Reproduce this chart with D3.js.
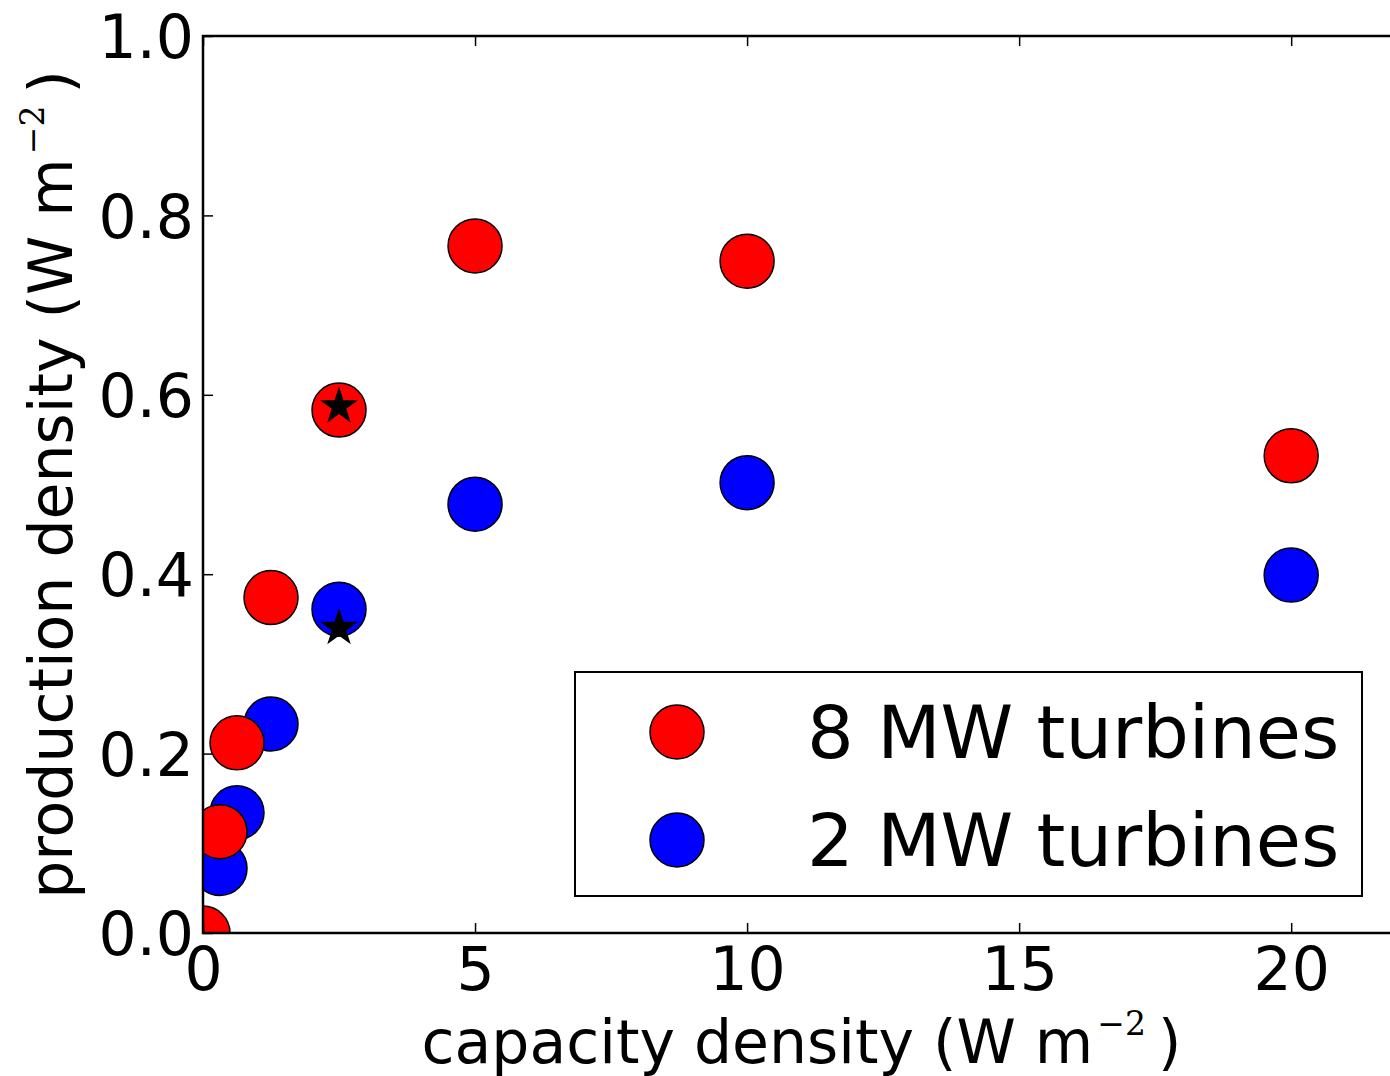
<!DOCTYPE html>
<html>
<head>
<meta charset="utf-8">
<script src="https://cdn.jsdelivr.net/npm/d3@7"></script>
<style>
  body { margin: 0; background: #fff; }
  text { font-family: "DejaVu Sans", sans-serif; fill: #000; }
</style>
</head>
<body>
<svg id="chart" width="1390" height="1076"></svg>
<script>
// data
const capacity8MW = [0, 0.3125, 0.625, 1.25, 2.5, 5, 10, 20];
const prod8MW     = [0, 0.113, 0.212, 0.374, 0.583, 0.766, 0.749, 0.532];
const capacity2MW = [0.3125, 0.625, 1.25, 2.5, 5, 10, 20];
const prod2MW     = [0.072, 0.134, 0.233, 0.361, 0.478, 0.502, 0.399];
const starCapacity = [2.5, 2.5];
const starProd     = [0.587, 0.340];
const xTicks = [0, 5, 10, 15, 20];
const yTicks = [0, 0.2, 0.4, 0.6, 0.8, 1.0];
const seriesNames = ["8 MW turbines", "2 MW turbines"];
const seriesColors = ["#ff0000", "#0000ff"];

const svg = d3.select("#chart");
const plot = { left: 203, right: 1400, top: 36, bottom: 933 };

const x = d3.scaleLinear().domain([0, 22]).range([plot.left, plot.right]);
const y = d3.scaleLinear().domain([0, 1]).range([plot.bottom, plot.top]);

svg.append("defs").append("clipPath").attr("id", "clip")
  .append("rect")
    .attr("x", plot.left).attr("y", plot.top)
    .attr("width", plot.right - plot.left)
    .attr("height", plot.bottom - plot.top);

// markers: blue first, red on top, then stars
const marks = svg.append("g").attr("clip-path", "url(#clip)");
const markerR = 27;

marks.selectAll("circle.blue")
  .data(d3.zip(capacity2MW, prod2MW))
  .join("circle")
    .attr("class", "blue")
    .attr("cx", d => x(d[0]))
    .attr("cy", d => y(d[1]))
    .attr("r", markerR)
    .attr("fill", seriesColors[1])
    .attr("stroke", "#000")
    .attr("stroke-width", 1.5);

marks.selectAll("circle.red")
  .data(d3.zip(capacity8MW, prod8MW))
  .join("circle")
    .attr("class", "red")
    .attr("cx", d => x(d[0]))
    .attr("cy", d => y(d[1]))
    .attr("r", markerR)
    .attr("fill", seriesColors[0])
    .attr("stroke", "#000")
    .attr("stroke-width", 1.5);

const star = d3.symbol().type(d3.symbolStar).size(450);
marks.selectAll("path.star")
  .data(d3.zip(starCapacity, starProd))
  .join("path")
    .attr("class", "star")
    .attr("d", star)
    .attr("transform", d => `translate(${x(d[0])},${y(d[1])})`)
    .attr("fill", "#000");

// axes, ticks pointing inward on all four sides
const tickLen = 10;
const fontSize = 60;

const xBottom = svg.append("g")
  .attr("transform", `translate(0,${plot.bottom})`)
  .call(d3.axisBottom(x).tickValues(xTicks).tickSizeInner(-tickLen).tickSizeOuter(0).tickFormat(d3.format("d")));
xBottom.selectAll("text")
  .attr("y", 57).attr("dy", 0)
  .style("font-size", fontSize + "px");

const xTop = svg.append("g")
  .attr("transform", `translate(0,${plot.top})`)
  .call(d3.axisTop(x).tickValues(xTicks).tickSizeInner(-tickLen).tickSizeOuter(0));
xTop.selectAll("text").remove();

const yLeft = svg.append("g")
  .attr("transform", `translate(${plot.left},0)`)
  .call(d3.axisLeft(y).tickValues(yTicks).tickSizeInner(-tickLen).tickSizeOuter(0).tickFormat(d3.format(".1f")));
yLeft.selectAll("text")
  .attr("x", -9).attr("dy", "0.36em")
  .style("font-size", fontSize + "px");

const yRight = svg.append("g")
  .attr("transform", `translate(${plot.right},0)`)
  .call(d3.axisRight(y).tickValues(yTicks).tickSizeInner(-tickLen).tickSizeOuter(0));
yRight.selectAll("text").remove();

svg.selectAll(".domain").remove();
svg.selectAll(".tick line").attr("stroke", "#000").attr("stroke-width", 1.5);

svg.append("rect")
  .attr("x", plot.left).attr("y", plot.top)
  .attr("width", plot.right - plot.left)
  .attr("height", plot.bottom - plot.top)
  .attr("fill", "none")
  .attr("stroke", "#000")
  .attr("stroke-width", 2.5);

// axis labels with a serif superscript, like matplotlib mathtext
function unitLabel(sel, base) {
  sel.append("tspan").text(base + " (W m");
  sel.append("tspan")
    .attr("dy", -28).attr("dx", 4)
    .style("font-family", "'DejaVu Serif', serif")
    .style("font-size", "33px")
    .text("\u22122");
  sel.append("tspan").attr("dy", 28).attr("dx", 12).text(")");
}

svg.append("text")
  .attr("x", (plot.left + plot.right) / 2)
  .attr("y", 1063)
  .attr("text-anchor", "middle")
  .style("font-size", "60px")
  .call(unitLabel, "capacity density");

svg.append("text")
  .attr("transform", `translate(72,${(plot.top + plot.bottom) / 2}) rotate(-90)`)
  .attr("text-anchor", "middle")
  .style("font-size", "60px")
  .call(unitLabel, "production density");

// legend
const legend = svg.append("g");
legend.append("rect")
  .attr("x", 575).attr("y", 672)
  .attr("width", 787).attr("height", 224)
  .attr("fill", "#fff")
  .attr("stroke", "#000")
  .attr("stroke-width", 2);

const rows = legend.selectAll("g.row")
  .data(seriesNames)
  .join("g")
    .attr("class", "row")
    .attr("transform", (d, i) => `translate(0,${732 + i * 108})`);
rows.append("circle")
  .attr("cx", 677).attr("cy", 0)
  .attr("r", markerR)
  .attr("fill", (d, i) => seriesColors[i])
  .attr("stroke", "#000")
  .attr("stroke-width", 1.5);
rows.append("text")
  .attr("x", 807).attr("y", 26)
  .style("font-size", "73.5px")
  .text(d => d);
</script>
</body>
</html>
